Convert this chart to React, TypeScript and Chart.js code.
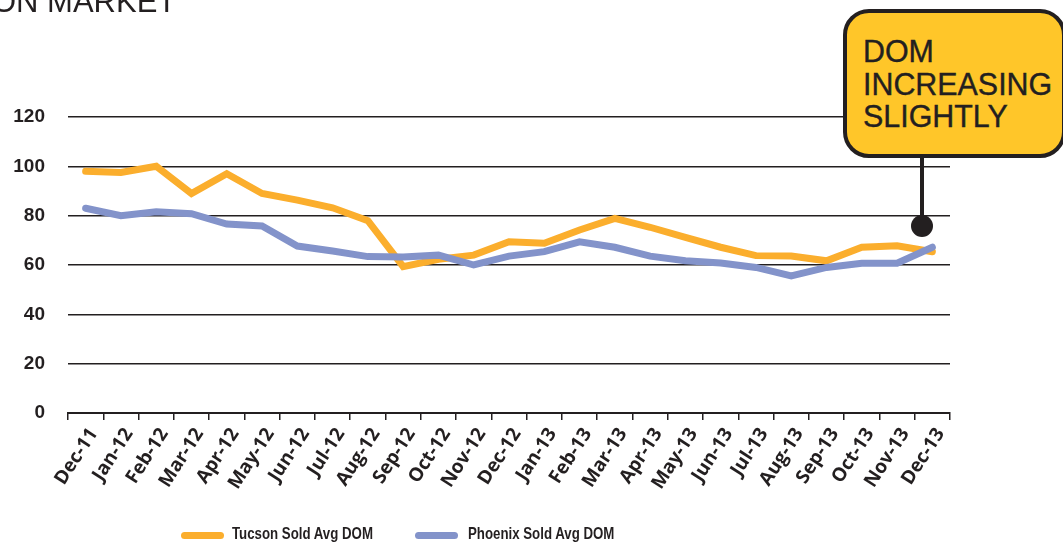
import React, { useEffect, useRef } from "react";
import { Chart, registerables } from "chart.js";

Chart.register(...registerables);

const categories = [
  "Dec-11", "Jan-12", "Feb-12", "Mar-12", "Apr-12", "May-12", "Jun-12", "Jul-12", "Aug-12",
  "Sep-12", "Oct-12", "Nov-12", "Dec-12", "Jan-13", "Feb-13", "Mar-13", "Apr-13", "May-13",
  "Jun-13", "Jul-13", "Aug-13", "Sep-13", "Oct-13", "Nov-13", "Dec-13",
];

const tucsonDOM = [
  98, 97.5, 100, 89, 97, 89, 86.3, 83.2, 78, 59.3, 62.3, 64, 69.4, 68.8, 74.2, 78.9, 75.3,
  71.2, 67.2, 63.8, 63.6, 61.7, 67.2, 67.8, 65.4,
];

const phoenixDOM = [
  83, 80, 81.6, 80.8, 76.6, 75.8, 67.7, 65.7, 63.4, 63.2, 64, 60, 63.6, 65.4, 69.4, 67.2,
  63.6, 61.7, 60.8, 59, 55.6, 59, 60.7, 60.7, 67.2,
];

const yTicks = [0, 20, 40, 60, 80, 100, 120];

const INK = "#231F20";
const ORANGE = "#FBAE2D";
const BLUE = "#8393CA";
const SANS = "'Liberation Sans', Arial, sans-serif";

export default function App() {
  const canvasRef = useRef<HTMLCanvasElement | null>(null);

  useEffect(() => {
    document.body.style.margin = "0";
    const canvas = canvasRef.current;
    if (!canvas) return;
    const chart = new Chart(canvas, {
      type: "line",
      data: {
        labels: categories,
        datasets: [
          {
            label: "Tucson Sold Avg DOM",
            data: tucsonDOM,
            borderColor: ORANGE,
            backgroundColor: ORANGE,
            borderWidth: 7,
            pointRadius: 0,
            tension: 0,
            borderCapStyle: "round",
            order: 1,
          },
          {
            label: "Phoenix Sold Avg DOM",
            data: phoenixDOM,
            borderColor: BLUE,
            backgroundColor: BLUE,
            borderWidth: 7,
            pointRadius: 0,
            tension: 0,
            borderCapStyle: "round",
            order: 0,
          },
        ],
      },
      options: {
        animation: false,
        responsive: false,
        devicePixelRatio: 1,
        layout: { padding: { left: 0, top: 117, right: 113, bottom: 0 } },
        plugins: {
          legend: { display: false },
          tooltip: { enabled: false },
        },
        scales: {
          x: {
            type: "category",
            offset: true,
            grid: {
              offset: true,
              drawOnChartArea: false,
              drawTicks: true,
              tickLength: 7,
              color: INK,
              lineWidth: 1.5,
            },
            border: { display: true, color: INK, width: 2 },
            ticks: {
              autoSkip: false,
              minRotation: 57,
              maxRotation: 57,
              padding: 4,
              labelOffset: 8,
              color: INK,
              font: { family: "'Open Sans', 'Liberation Sans', sans-serif", size: 19, weight: "bold" },
            },
            afterFit: (scale: any) => {
              scale.height = 130;
            },
          },
          y: {
            min: 0,
            max: 120,
            afterBuildTicks: (scale: any) => {
              scale.ticks = yTicks.map((v) => ({ value: v }));
            },
            grid: {
              drawTicks: false,
              color: INK,
              lineWidth: 1.5,
            },
            border: { display: false },
            ticks: {
              padding: 23,
              color: INK,
              font: { family: SANS, size: 19, weight: "bold" },
            },
            afterFit: (scale: any) => {
              scale.width = 68;
            },
          },
        },
      },
    });
    return () => chart.destroy();
  }, []);

  const legendText: React.CSSProperties = {
    position: "absolute",
    top: 525,
    fontFamily: SANS,
    fontWeight: "bold",
    fontSize: 17,
    lineHeight: "17px",
    color: INK,
    whiteSpace: "nowrap",
    transform: "scaleX(0.78)",
    transformOrigin: "0 0",
  };

  return (
    <div style={{ position: "absolute", left: 0, top: 0, width: 1063, height: 543, overflow: "hidden", background: "#fff" }}>
      <canvas ref={canvasRef} width={1063} height={543} style={{ position: "absolute", left: 0, top: 0, width: 1063, height: 543 }} />
      <div
        style={{
          position: "absolute",
          left: -8,
          top: -14,
          fontFamily: SANS,
          fontSize: 31,
          lineHeight: "31px",
          color: INK,
          whiteSpace: "nowrap",
        }}
      >
        ON MARKET
      </div>
      {/* callout */}
      <div style={{ position: "absolute", left: 920, top: 150, width: 4, height: 78, background: INK }} />
      <div style={{ position: "absolute", left: 911, top: 215, width: 22, height: 22, borderRadius: "50%", background: INK }} />
      <div
        style={{
          position: "absolute",
          left: 843,
          top: 9,
          width: 223,
          height: 149,
          boxSizing: "border-box",
          border: `4px solid ${INK}`,
          borderRadius: 26,
          background: "#FFC629",
        }}
      />
      <div
        style={{
          position: "absolute",
          left: 863,
          top: 35,
          fontFamily: SANS,
          fontSize: 32,
          lineHeight: "32.5px",
          color: INK,
          whiteSpace: "nowrap",
          transform: "scaleX(0.95)",
          transformOrigin: "0 0",
          WebkitTextStroke: "0.4px " + INK,
        }}
      >
        <div>DOM</div>
        <div>INCREASING</div>
        <div>SLIGHTLY</div>
      </div>
      {/* legend */}
      <div style={{ position: "absolute", left: 181, top: 532, width: 43, height: 7, borderRadius: 4, background: ORANGE }} />
      <div style={{ ...legendText, left: 232 }}>Tucson Sold Avg DOM</div>
      <div style={{ position: "absolute", left: 415, top: 532, width: 43, height: 7, borderRadius: 4, background: BLUE }} />
      <div style={{ ...legendText, left: 468 }}>Phoenix Sold Avg DOM</div>
    </div>
  );
}
